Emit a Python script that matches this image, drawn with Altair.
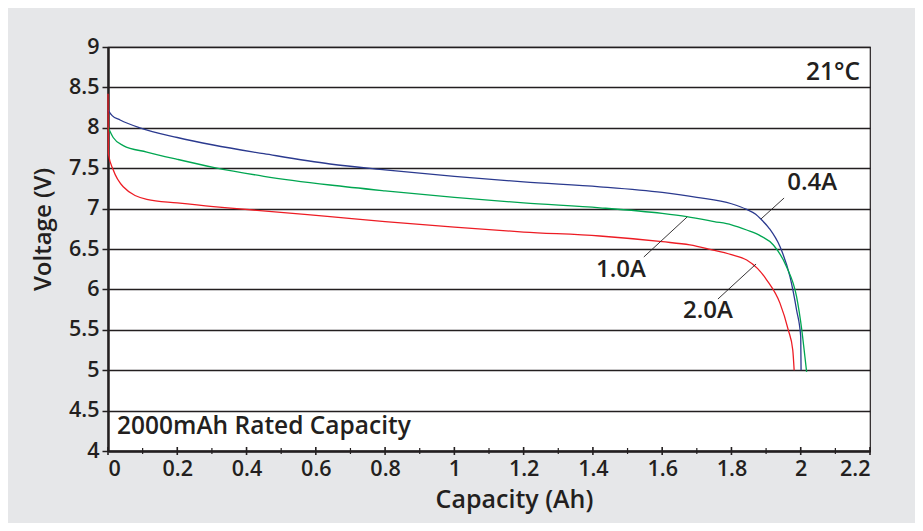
import altair as alt
import pandas as pd

# ---- data ----
blue_x = [0.0, 0.012, 0.035, 0.092, 0.20, 0.304, 0.45, 0.641, 0.80, 1.0, 1.2, 1.42, 1.6, 1.7, 1.8, 1.844, 1.87, 1.885, 1.91, 1.94, 1.969, 1.988, 2.0, 2.001]
blue_y = [8.22, 8.15, 8.097, 8.0, 7.88, 7.787, 7.68, 7.552, 7.48, 7.40, 7.33, 7.27, 7.20, 7.14, 7.06, 6.99, 6.93, 6.87, 6.75, 6.53, 6.157, 5.745, 5.415, 5.0]

green_x = [0.0, 0.015, 0.044, 0.112, 0.20, 0.304, 0.45, 0.641, 0.80, 1.0, 1.2, 1.42, 1.6, 1.671, 1.75, 1.80, 1.844, 1.885, 1.921, 1.959, 1.988, 2.003, 2.012, 2.017]
green_y = [8.01, 7.88, 7.78, 7.70, 7.61, 7.511, 7.40, 7.292, 7.22, 7.14, 7.07, 7.01, 6.94, 6.90, 6.84, 6.80, 6.735, 6.66, 6.55, 6.28, 5.91, 5.5, 5.17, 4.98]

red_x = [0.0, 0.001, 0.015, 0.044, 0.112, 0.20, 0.304, 0.372, 0.641, 0.80, 1.0, 1.2, 1.42, 1.6, 1.68, 1.738, 1.80, 1.844, 1.875, 1.902, 1.94, 1.964, 1.977, 1.981]
red_y = [8.42, 7.68, 7.48, 7.27, 7.115, 7.07, 7.024, 7.0, 6.90, 6.84, 6.77, 6.71, 6.661, 6.59, 6.55, 6.496, 6.43, 6.364, 6.26, 6.116, 5.83, 5.50, 5.25, 5.0]

series_names = ["0.4A", "1.0A", "2.0A"]
series_colors = ["#2b3a8f", "#00a651", "#ed1c24"]

x_ticks = [0, 0.2, 0.4, 0.6, 0.8, 1.0, 1.2, 1.4, 1.6, 1.8, 2.0, 2.2]
x_minor = [0.1, 0.3, 0.5, 0.7, 0.9, 1.1, 1.3, 1.5, 1.7, 1.9, 2.1]
y_ticks = [4, 4.5, 5, 5.5, 6, 6.5, 7, 7.5, 8, 8.5, 9]

# curve labels and leader lines
lab_text = ["0.4A", "1.0A", "2.0A"]
lab_x = [2.033, 1.481, 1.732]
lab_y = [7.317, 6.24, 5.733]
lead_x = [1.952, 1.672, 1.871]
lead_y = [7.131, 6.896, 6.314]
lead_x2 = [1.885, 1.547, 1.761]
lead_y2 = [6.871, 6.401, 5.881]

note_right_text = ["21°C"]
note_right_x = [2.171]
note_right_y = [8.68]
note_left_text = ["2000mAh Rated Capacity"]
note_left_x = [0.026]
note_left_y = [4.297]

# ---- tables ----
rows = []
for name, xs_, ys_ in zip(series_names, [blue_x, green_x, red_x], [blue_y, green_y, red_y]):
    for i, (a, b) in enumerate(zip(xs_, ys_)):
        rows.append({"series": name, "idx": i, "cap": a, "v": b})
curves = pd.DataFrame(rows)

labels = pd.DataFrame({"t": lab_text, "x": lab_x, "y": lab_y})
leaders = pd.DataFrame({"x": lead_x, "y": lead_y, "x2": lead_x2, "y2": lead_y2})
nr = pd.DataFrame({"t": note_right_text, "x": note_right_x, "y": note_right_y})
nl = pd.DataFrame({"t": note_left_text, "x": note_left_x, "y": note_left_y})
major = pd.DataFrame({"x": x_ticks})
minor = pd.DataFrame({"x": x_minor})

W, H = 762, 404
FONT = "Open Sans"
INK = "#231f20"
WEIGHT = 600

xs = alt.Scale(domain=[0, 2.2], nice=False)
ys = alt.Scale(domain=[4, 9], nice=False)

lines = alt.Chart(curves).mark_line(strokeWidth=1.3, interpolate="monotone").encode(
    x=alt.X("cap:Q", scale=xs, axis=alt.Axis(
        values=x_ticks, format="~g", title="Capacity (Ah)", ticks=False,
        grid=False, domainColor=INK, domainWidth=2.5, labelPadding=7,
        titlePadding=8, titleX=406, titleFontSize=25)),
    y=alt.Y("v:Q", scale=ys, axis=alt.Axis(
        values=y_ticks, format="~g", title="Voltage (V)", grid=True,
        gridColor=INK, gridWidth=1.4, gridOpacity=1, tickColor=INK,
        tickSize=6, tickWidth=1.5, domainColor=INK, domainWidth=2.5,
        labelPadding=3, titlePadding=13, titleY=182)),
    color=alt.Color("series:N", scale=alt.Scale(domain=series_names, range=series_colors), legend=None),
    order="idx:Q",
)

maj_ticks = alt.Chart(major).mark_rule(color=INK, strokeWidth=1.6).encode(
    x=alt.X("x:Q", scale=xs), y=alt.value(H - 4), y2=alt.value(H + 4))
min_ticks = alt.Chart(minor).mark_rule(color=INK, strokeWidth=1.2).encode(
    x=alt.X("x:Q", scale=xs), y=alt.value(H - 3), y2=alt.value(H + 3))

lead = alt.Chart(leaders).mark_rule(color=INK, strokeWidth=0.9).encode(
    x=alt.X("x:Q", scale=xs), y=alt.Y("y:Q", scale=ys),
    x2="x2:Q", y2="y2:Q")

lab = alt.Chart(labels).mark_text(font=FONT, fontSize=24, fontWeight=WEIGHT, color=INK,
                                  align="center", baseline="middle").encode(
    x=alt.X("x:Q", scale=xs), y=alt.Y("y:Q", scale=ys), text="t:N")

txt_r = alt.Chart(nr).mark_text(font=FONT, fontSize=24.5, fontWeight=WEIGHT, color=INK,
                                align="right", baseline="middle").encode(
    x=alt.X("x:Q", scale=xs), y=alt.Y("y:Q", scale=ys), text="t:N")

txt_l = alt.Chart(nl).mark_text(font=FONT, fontSize=24.5, fontWeight=WEIGHT, color=INK,
                                align="left", baseline="middle").encode(
    x=alt.X("x:Q", scale=xs), y=alt.Y("y:Q", scale=ys), text="t:N")

chart = alt.layer(lines, lead, lab, txt_r, txt_l, maj_ticks, min_ticks).properties(
    width=W, height=H,
    autosize=alt.AutoSizeParams(type="none"),
    padding={"left": 100, "top": 39, "right": 45, "bottom": 72},
    background="#e6e7e9",
).configure_view(
    stroke=INK, strokeWidth=1.2, fill="white"
).configure_axis(
    labelFont=FONT, labelFontSize=21.5, labelFontWeight=WEIGHT, labelColor=INK,
    titleFont=FONT, titleFontSize=24, titleFontWeight=WEIGHT, titleColor=INK,
)

chart.save("out.html", embed_options={"renderer": "svg", "actions": False})
